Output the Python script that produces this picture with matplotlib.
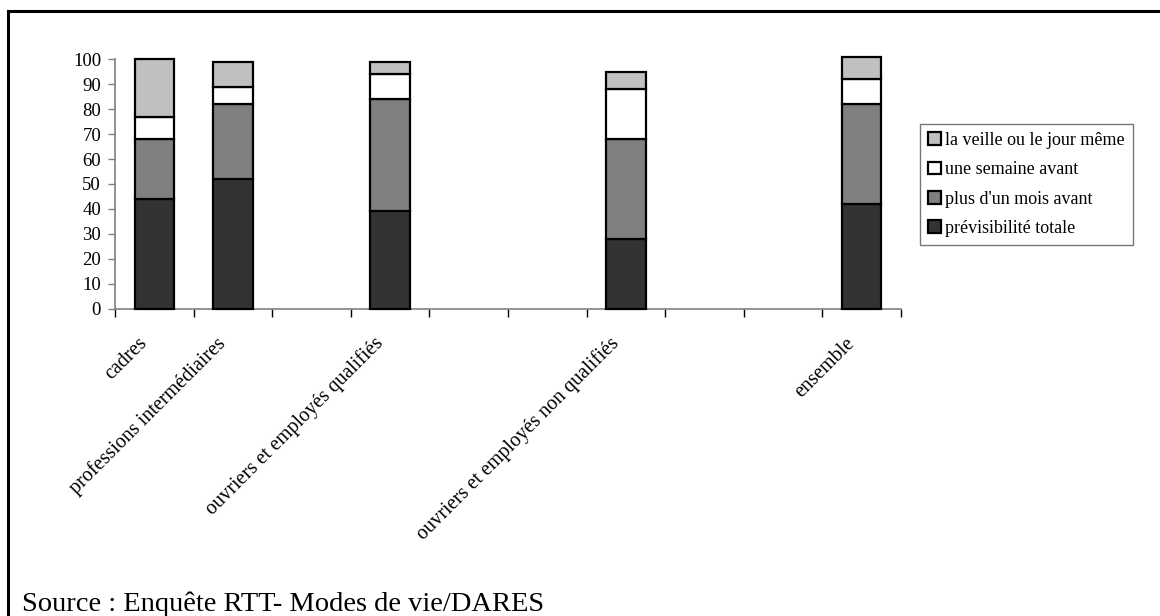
import numpy as np
import matplotlib
matplotlib.use('Agg')
import matplotlib.pyplot as plt
from matplotlib.lines import Line2D

plt.rcParams['font.family'] = ['Liberation Serif', 'DejaVu Serif']

# 10 emplacements sur l'axe X, seuls 5 sont occupés
categories = ['cadres', 'professions intermédiaires', '', 'ouvriers et employés qualifiés', '', '',
              'ouvriers et employés non qualifiés', '', '', 'ensemble']
bar_slots = [0, 1, 3, 6, 9]
previsibilite_totale = [44, 52, 39, 28, 42]
plus_d_un_mois = [24, 30, 45, 40, 40]
une_semaine = [9, 7, 10, 20, 10]
veille_jour_meme = [23, 10, 5, 7, 9]

series = [
    ('prévisibilité totale', previsibilite_totale, '#333333'),
    ("plus d'un mois avant", plus_d_un_mois, '#808080'),
    ('une semaine avant', une_semaine, '#ffffff'),
    ('la veille ou le jour même', veille_jour_meme, '#c0c0c0'),
]

fig = plt.figure(figsize=(11.6, 6.16), dpi=100)
ax = fig.add_axes([115 / 1160, 1 - 308.7 / 616, 786 / 1160, 249.4 / 616])

pos = np.array(bar_slots) + 0.5
bottom = np.zeros(len(pos))
handles = []
for name, vals, col in series:
    bars = ax.bar(pos, vals, width=0.5, bottom=bottom, color=col, edgecolor='black',
                  linewidth=1.6, label=name, clip_on=False, zorder=3)
    bottom += np.array(vals)
    handles.append(bars)

ax.set_xlim(0, 10)
ax.set_ylim(0, 100)
ax.set_yticks(range(0, 101, 10))
ax.set_xticks(range(0, 11))
ax.set_xticklabels([])
ax.tick_params(axis='y', direction='out', length=5, width=1, color='#808080', labelsize=13.5, pad=5)
ax.tick_params(axis='x', direction='out', length=6, width=1, color='black')
for s in ['top', 'right']:
    ax.spines[s].set_visible(False)
for s in ['left', 'bottom']:
    ax.spines[s].set_color('#808080')
    ax.spines[s].set_linewidth(1.2)

# étiquettes inclinées sous l'axe
for i, lab in enumerate(categories):
    if lab:
        ax.annotate(lab, (i + 0.5, 0), xycoords='data', textcoords='offset points',
                    xytext=(-2, -18), rotation=45, ha='right', va='top', fontsize=14.5)

leg = fig.legend(handles[::-1], [s[0] for s in series][::-1], loc='upper left',
                 bbox_to_anchor=(920 / 1160, 1 - 124 / 616), borderaxespad=0,
                 fontsize=13, frameon=True, fancybox=False, handlelength=0.7,
                 handleheight=0.7, handletextpad=0.25, labelspacing=0.68,
                 borderpad=0.45)
leg.get_frame().set_edgecolor('#555555')
leg.get_frame().set_linewidth(1.0)

fig.text(22 / 1160, 1 - 611 / 616, 'Source : Enquête RTT- Modes de vie/DARES',
         fontsize=20.5, ha='left', va='baseline')

# cadre autour du graphique
fig.add_artist(Line2D([8 / 1160, 8 / 1160], [0, 1 - 11 / 616], color='black', lw=2.2,
                      transform=fig.transFigure))
fig.add_artist(Line2D([8 / 1160, 1], [1 - 11 / 616, 1 - 11 / 616], color='black', lw=2.2,
                      transform=fig.transFigure))

fig.savefig('out.png', dpi=100)
